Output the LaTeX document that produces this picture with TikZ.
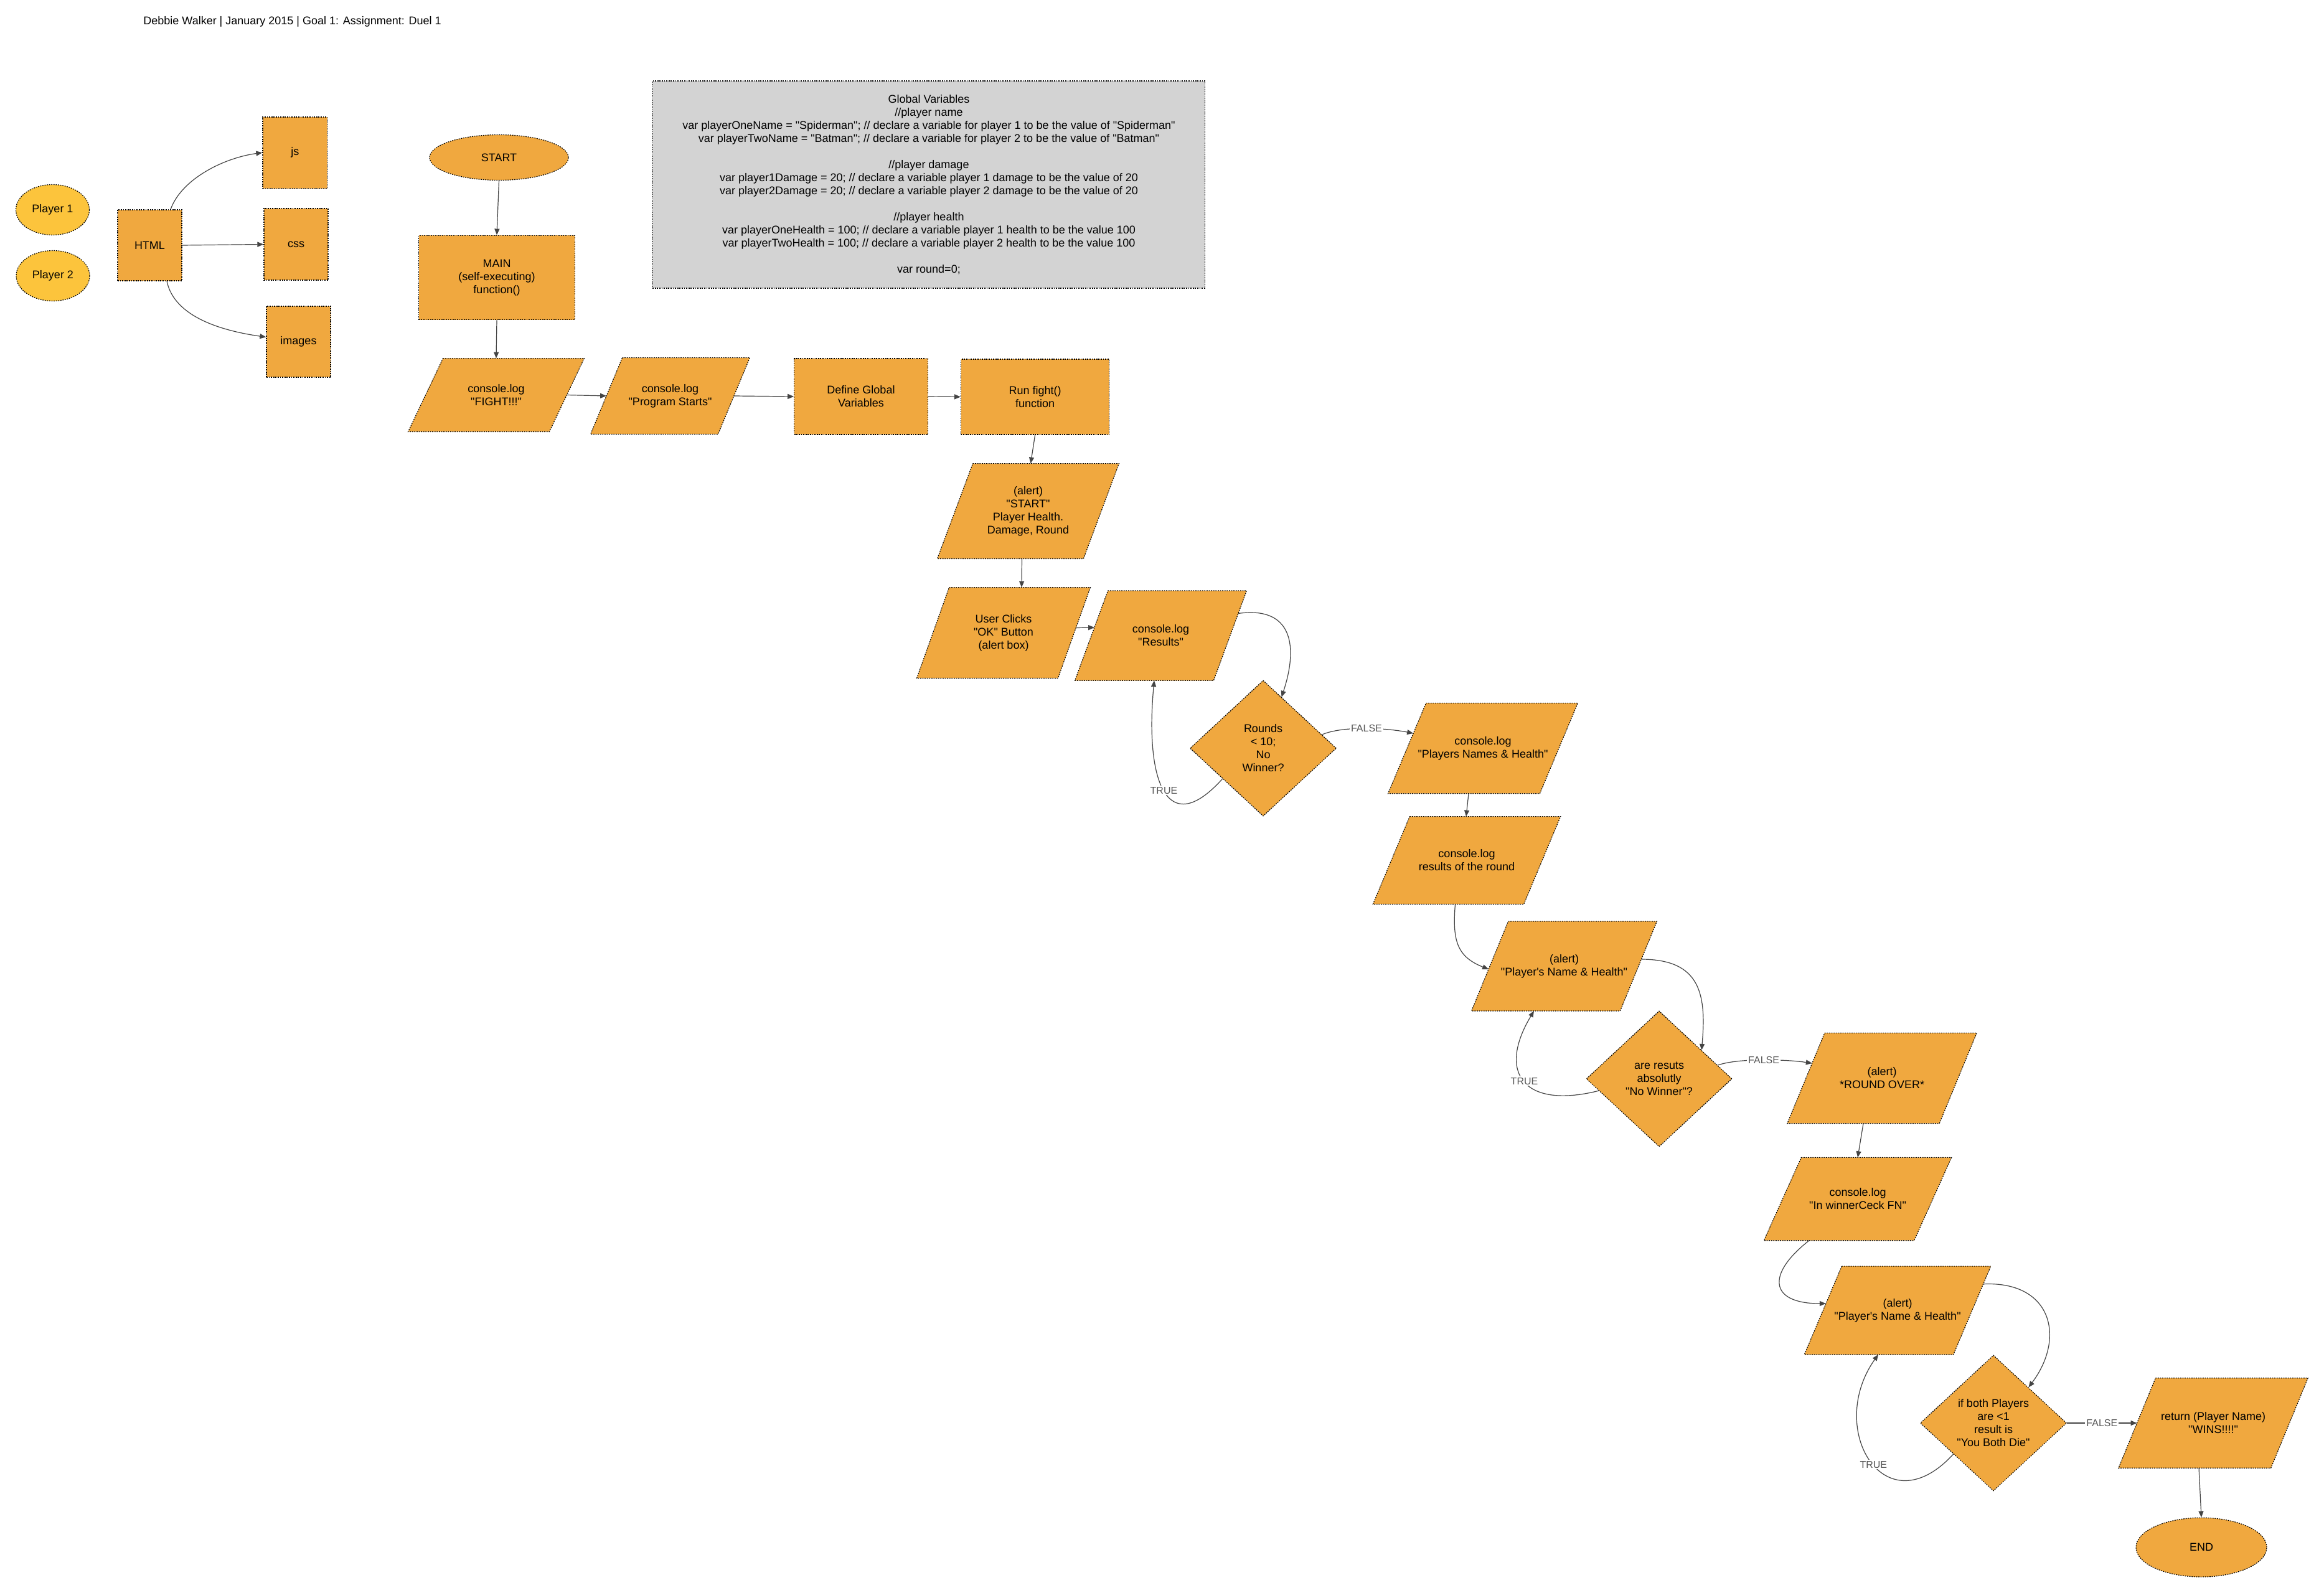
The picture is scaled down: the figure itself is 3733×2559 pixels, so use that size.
\documentclass[tikz,border=0pt]{standalone}
\usepackage{fontspec}
\newfontfamily\lsans{Liberation Sans}
\usetikzlibrary{shapes.geometric,arrows.meta,calc,backgrounds}

\definecolor{boxorange}{HTML}{F0A83F}
\definecolor{playeryellow}{HTML}{FCC43C}
\definecolor{notegray}{HTML}{D3D3D3}
\definecolor{linegray}{HTML}{444444}
\definecolor{labelgray}{HTML}{555555}

\tikzset{
  base/.style={font=\lsans\fontsize{9}{10.5}\selectfont, align=center, inner sep=0pt},
  dims/.style 2 args={minimum width=#1*0.5pt, minimum height=#2*0.5pt},
  shapeline/.style={draw=black, line width=0.6pt, dash pattern=on 0.9pt off 0.9pt},
  pgtext/.style={base, draw=none, shape=rectangle},
  rectbox/.style={base, shapeline, fill=boxorange, shape=rectangle},
  oval/.style={base, shapeline, fill=boxorange, ellipse},
  playeroval/.style={oval, fill=playeryellow},
  decision/.style={base, shapeline, fill=boxorange, diamond},
  note/.style={base, shapeline, fill=notegray, shape=rectangle},
  flow/.style={draw=linegray, line width=0.6pt, -{Triangle[length=5pt,width=4pt]}},
  lbl/.style={font=\lsans\fontsize{8}{9}\selectfont, text=labelgray, fill=white, inner sep=1pt},
}

% parallelogram: name, x, y, full width, height, slant, text
\newcommand\pgram[7]{%
  \node[pgtext, dims={#4}{#5}] (#1) at (#2,#3) {#7};
  \begin{scope}[on background layer]
    \filldraw[shapeline, fill=boxorange]
      ($(#1.north west)+(#6,0)$) -- (#1.north east) -- ($(#1.south east)-(#6,0)$) -- (#1.south west) -- cycle;
  \end{scope}
  \coordinate (#1-l) at ($(#1.west)+(#6/2,0)$);
  \coordinate (#1-r) at ($(#1.east)-(#6/2,0)$);
}

\begin{document}
\begin{tikzpicture}[x=0.5pt, y=-0.5pt]
\useasboundingbox (0,0) rectangle (3733,2559);
\begin{scope}[on background layer]
  \fill[white] (0,0) rectangle (3733,2559);
\end{scope}

\node[base, anchor=west] (title) at (230,35) {Debbie Walker | January 2015 | Goal 1: Assignment: Duel 1};

% players and page resources
\node[playeroval, dims={118}{81}] (p1) at (84.5,337) {Player 1};
\node[playeroval, dims={118}{81}] (p2) at (85,443) {Player 2};
\node[rectbox, dims={103}{114}] (html) at (240.5,394) {HTML};
\node[rectbox, dims={103.5}{114.5}] (js) at (473.75,245.25) {js};
\node[rectbox, dims={103}{115}] (css) at (475.5,392.5) {css};
\node[rectbox, dims={103}{114}] (images) at (479.5,549) {images};

% global variables
\node[note, dims={887.6}{333}] (globals) at (1492,296.5) {Global Variables\\
//player name\\
var playerOneName = "Spiderman"; //  declare a variable for player 1 to be the value of "Spiderman"\\
var playerTwoName = "Batman";  // declare a variable for player 2 to be the value of "Batman"\\[10.5pt]
//player damage\\
var player1Damage = 20; //  declare a variable player 1 damage to be the value of 20\\
var player2Damage = 20; // declare a variable player 2 damage to be the value of 20\\[10.5pt]
//player health\\
var playerOneHealth = 100; // declare  a variable player 1 health to be the value 100\\
var playerTwoHealth = 100; // declare a variable player 2 health to be the value 100\\[10.5pt]
var round=0;};

% main flow
\node[oval, dims={223}{73}] (startov) at (801.5,253) {START};
\node[rectbox, dims={250.5}{135.7}] (main) at (798,446) {MAIN\\(self-executing)\\function()};
\pgram{fight}{797}{634.5}{282}{117}{56}{console.log\\"FIGHT!!!"}
\pgram{prog}{1076.5}{636}{255}{122}{51}{console.log\\"Program Starts"}
\node[rectbox, dims={214.5}{122}] (define) at (1383,637) {Define Global\\Variables};
\node[rectbox, dims={238}{121}] (run) at (1662.6,637.5) {Run fight()\\function};
\pgram{alertstart}{1651.5}{821}{291}{152}{57}{(alert)\\"START"\\Player Health.\\Damage, Round}
\pgram{clicks}{1612}{1016.5}{278}{145}{52}{User Clicks\\"OK" Button\\(alert box)}
\pgram{results}{1864.5}{1021}{275}{143.5}{53}{console.log\\"Results"}
\node[decision, dims={235}{218}] (d1) at (2029,1202) {Rounds\\< 10;\\No\\Winner?};
\pgram{pnh}{2382}{1202}{304}{144.5}{61}{console.log\\"Players Names \& Health"}
\pgram{round}{2356}{1382}{300.5}{140}{59}{console.log\\results of the round}
\pgram{pnh1}{2512.5}{1552}{297}{143}{59}{(alert)\\"Player's Name \& Health"}
\node[decision, dims={234}{218}] (d2) at (2665,1733) {are resuts\\absolutly\\"No Winner"?};
\pgram{ro}{3023}{1732}{303.5}{144.5}{60}{(alert)\\*ROUND OVER*}
\pgram{winner}{2984}{1926}{300.5}{132.5}{60}{console.log\\"In winnerCeck FN"}
\pgram{pnh2}{3048}{2105}{298.6}{141}{60}{(alert)\\"Player's Name \& Health"}
\node[decision, dims={235}{218}] (d3) at (3202,2286) {if both Players\\are <1\\result is\\"You Both Die"};
\pgram{wins}{3555}{2286}{303.5}{143.7}{59.5}{return (Player Name)\\"WINS!!!!"}
\node[oval, dims={210}{95}] (endov) at (3536,2485.6) {END};

% connectors
\draw[flow] ($(html.north)+(33.5,0)$) .. controls +(18,-50) and +(-60,8) .. (js.west);
\draw[flow] (html.east) -- (css.west);
\draw[flow] ($(html.south)+(27.5,0)$) .. controls +(12,58) and +(-70,-10) .. ($(images.west)+(0,-7.5)$);
\draw[flow] (startov.south) -- (main.north);
\draw[flow] (main.south) -- (fight.north);
\draw[flow] (fight-r) -- (prog-l);
\draw[flow] (prog-r) -- (define.west);
\draw[flow] (define.east) -- (run.west);
\draw[flow] (run.south) -- ($(alertstart.north)+(4,0)$);
\draw[flow] ($(alertstart.south)+(-10,0)$) -- ($(clicks.north)+(29,0)$);
\draw[flow] ($(clicks-r)+(3,-8)$) -- ($(results-l)+(5,-13)$);
\draw[flow] ($(results-r)+(13,-35.5)$) .. controls +(85,-12) and +(28,-85) .. ($(d1.north)!0.25!(d1.east)$);
\draw[flow] ($(d1.west)!0.447!(d1.south)$) .. controls +(-90,100) and +(-15,160) .. ($(results.south)+(-10.5,0)$) node[lbl,pos=0.5]{TRUE};
\draw[flow] ($(d1.east)!0.2!(d1.north)$) .. controls +(35,-15) and +(-40,-8) .. ($(pnh-l)+(10,-24)$) node[lbl,pos=0.5]{FALSE};
\draw[flow] ($(pnh.south)+(-23,0)$) -- ($(round.north)+(-1,0)$);
\draw[flow] ($(round.south)+(-18.5,0)$) .. controls +(-5,60) and +(-50,-20) .. ($(pnh1-l)+(-2,5)$);
\draw[flow] ($(pnh1-r)+(4.5,-11)$) .. controls +(95,0) and +(8,-90) .. ($(d2.north)!0.58!(d2.east)$);
\draw[flow] ($(d2.west)!0.175!(d2.south)$) .. controls +(-120,30) and +(-60,100) .. ($(pnh1.south)+(-48.5,0)$) node[lbl,pos=0.5]{TRUE};
\draw[flow] ($(d2.east)!0.2!(d2.north)$) .. controls +(35,-12) and +(-40,-6) .. ($(ro-l)+(10,-24)$) node[lbl,pos=0.5]{FALSE};
\draw[flow] ($(ro.south)+(-30,0)$) -- (winner.north);
\draw[flow] ($(winner.south)+(-78,0)$) .. controls +(-70,55) and +(-90,0) .. ($(pnh2-l)+(4.5,-11)$);
\draw[flow] ($(pnh2-r)+(18,-42.3)$) .. controls +(110,-5) and +(60,-80) .. ($(d3.north)!0.477!(d3.east)$);
\draw[flow] ($(d3.west)!0.455!(d3.south)$) .. controls +(-110,120) and +(-85,120) .. ($(pnh2.south)+(-31,0)$) node[lbl,pos=0.47]{TRUE};
\draw[flow] (d3.east) -- (wins-l) node[lbl,pos=0.5]{FALSE};
\draw[flow] ($(wins.south)+(-23,0)$) -- (endov.north);
\end{tikzpicture}
\end{document}
